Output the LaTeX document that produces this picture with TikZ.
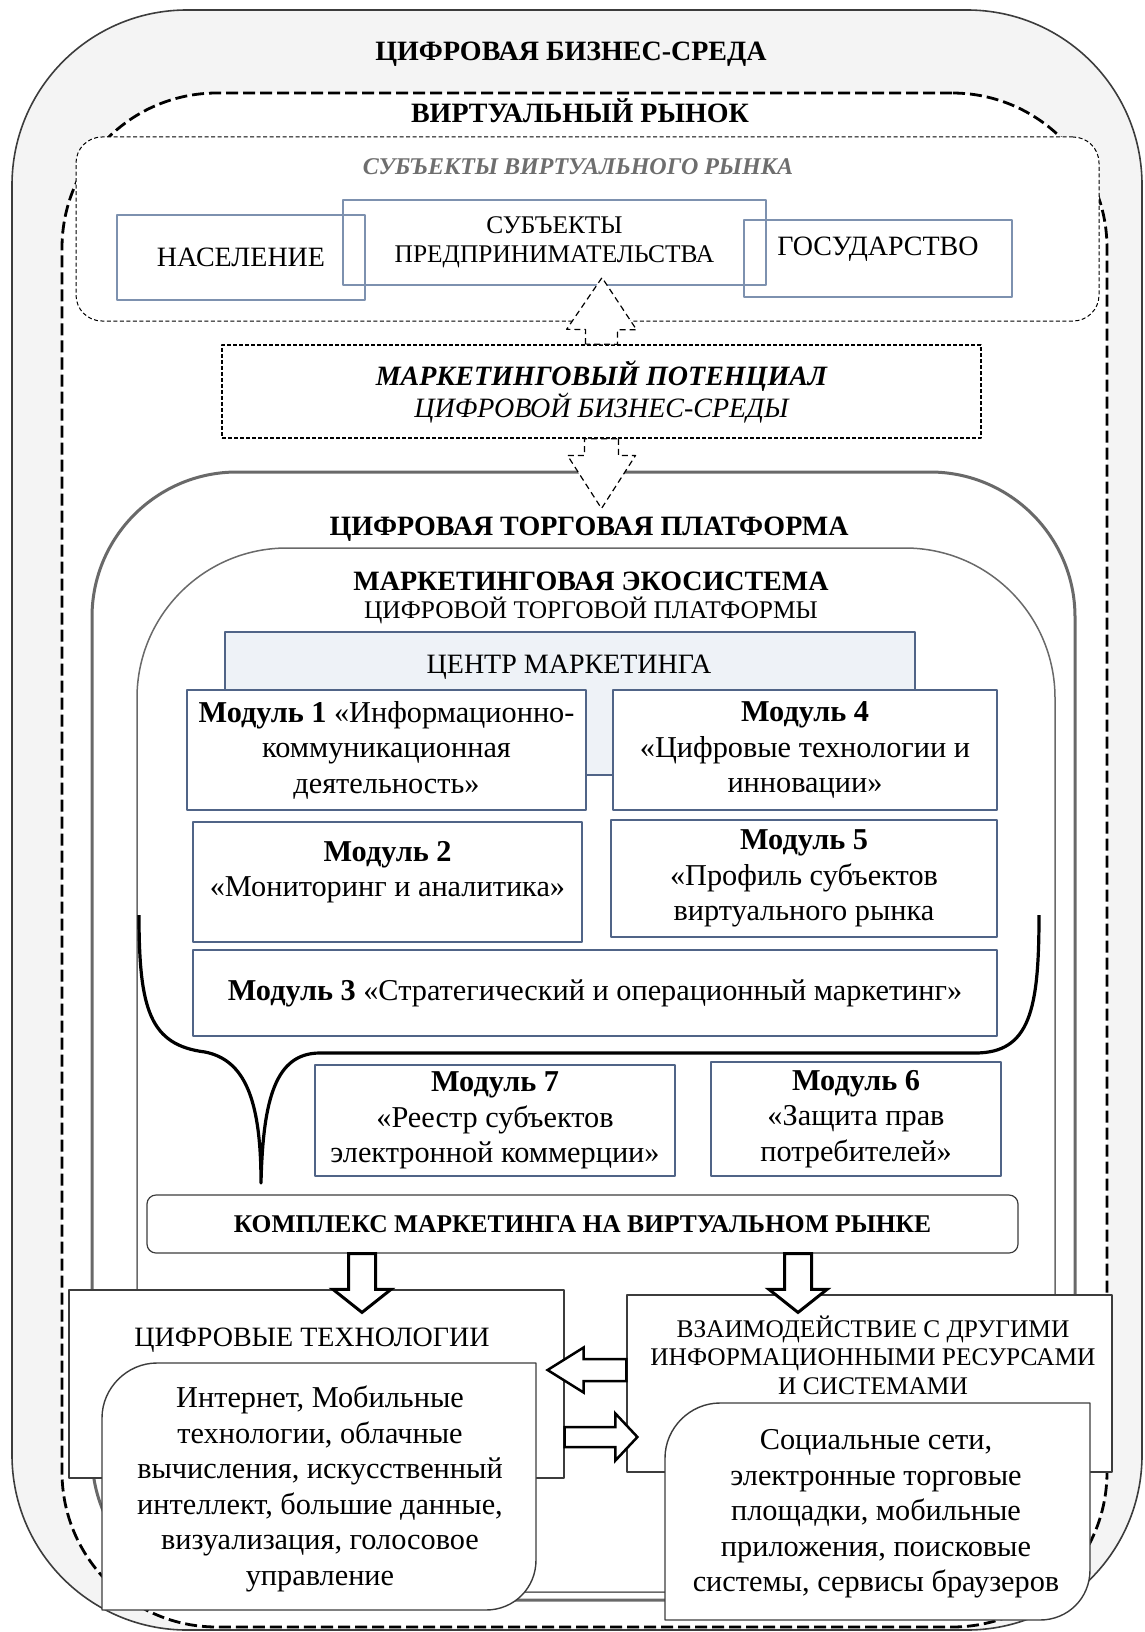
\documentclass[tikz,border=0pt]{standalone}
\usepackage{fontspec}
\setmainfont{Liberation Serif}
\usetikzlibrary{calc,positioning}

\definecolor{Cframe}{RGB}{60,60,60}
\definecolor{Cplat}{RGB}{105,105,105}
\definecolor{Csubj}{RGB}{125,145,175}
\definecolor{Cmod}{RGB}{80,100,135}
\definecolor{Ccentr}{RGB}{238,242,247}
\definecolor{Cgreytxt}{RGB}{110,110,110}
\definecolor{Cshade}{RGB}{244,244,244}

\newcommand{\titlefont}{\fontsize{28}{28}\selectfont}
\newcommand{\capfont}{\fontsize{28}{29}\selectfont}
\newcommand{\smallcapfont}{\fontsize{25.4}{28.5}\selectfont}
\newcommand{\bodyfont}{\fontsize{30.3}{35.5}\selectfont}

\tikzset{
    zone/.style={rectangle, inner sep=0pt},
    ztitle/.style={font=\titlefont\bfseries, align=center, inner sep=0pt},
    subj/.style={rectangle, draw=Csubj, line width=1.2pt, align=center, font=\capfont, inner sep=0pt},
    modbox/.style={rectangle, draw=Cmod, line width=1.8pt, fill=white, align=center, font=\bodyfont, inner sep=0pt},
    captext/.style={font=\capfont, align=center, inner sep=0pt},
    bodytext/.style={font=\bodyfont, align=center, inner sep=0pt},
    softbox/.style={draw=Cframe, line width=1.4pt, fill=white},
    % block arrow: shaft half width, head half width, head length
    fatarr/.style n args={3}{
        to path={let \p1=(\tikztostart), \p2=(\tikztotarget), \p3=($(\p2)!#3!(\p1)$) in
            ($(\p1)!#1!90:(\p2)$) -- ($(\p3)!#1!90:(\p2)$) -- ($(\p3)!#2!90:(\p2)$) -- (\p2)
            -- ($(\p3)!#2!-90:(\p2)$) -- ($(\p3)!#1!-90:(\p2)$) -- ($(\p1)!#1!-90:(\p2)$) -- cycle}
    },
    dasharr/.style={draw=black, line width=1.2pt, dash pattern=on 6pt off 4pt, fill=white},
    solidarr/.style={draw=black, line width=3pt, fill=white, line join=miter},
}

\begin{document}
\begin{tikzpicture}[x=1pt, y=-1pt, line join=round]
    \useasboundingbox (0,0) rectangle (1144,1632);

    % ── внешние зоны ─────────────────────────────────────
    \node [zone, draw=Cframe, line width=1.6pt, fill=Cshade, rounded corners=175pt,
        minimum width=1130pt, minimum height=1620pt] (bizenv) at (577,820) {};
    \node [zone, draw=black, line width=2.8pt, dash pattern=on 12pt off 5pt, fill=white,
        rounded corners=155pt, minimum width=1045pt, minimum height=1534pt] (vmarket) at (584.5,860) {};
    \node [zone, draw=black, line width=1pt, dash pattern=on 4pt off 2.5pt, fill=white,
        rounded corners=26pt, minimum width=1023pt, minimum height=184pt] (subjects) at (587.5,229) {};

    \node [ztitle] (bizenvT) at (571,54) {ЦИФРОВАЯ БИЗНЕС-СРЕДА};
    \node [ztitle] (vmarketT) at (580,111) {ВИРТУАЛЬНЫЙ РЫНОК};
    \node [ztitle, font=\fontsize{24}{26}\selectfont\bfseries\itshape, text=Cgreytxt] (subjectsT) at (578,167) {СУБЪЕКТЫ ВИРТУАЛЬНОГО РЫНКА};

    % ── субъекты ─────────────────────────────────────────
    \node [subj, minimum width=248pt, minimum height=85pt] (nasel) at (241,257.5) {НАСЕЛЕНИЕ};
    \node [subj, minimum width=423pt, minimum height=85pt, font=\smallcapfont] (predpr) at (554.5,242.5) {СУБЪЕКТЫ\\ПРЕДПРИНИМАТЕЛЬСТВА};
    \node [subj, minimum width=268pt, minimum height=77pt] (gos) at (878,258.5) {\raisebox{9pt}[\height][\depth]{ГОСУДАРСТВО}};

    % ── потенциал ────────────────────────────────────────
    \node [zone, draw=black, line width=1.5pt, dash pattern=on 4pt off 2pt, fill=white,
        minimum width=759pt, minimum height=93pt, align=center, font=\fontsize{28}{32}\selectfont\itshape]
        (potential) at (601.5,391.5) {\textbf{МАРКЕТИНГОВЫЙ ПОТЕНЦИАЛ}\\ЦИФРОВОЙ БИЗНЕС-СРЕДЫ};

    % ── платформа и экосистема ───────────────────────────
    \node [zone, draw=Cplat, line width=3pt, fill=white, rounded corners=145pt,
        minimum width=983pt, minimum height=1128pt] (platform) at (583.5,1036) {};
    \node [ztitle] (platformT) at (589,529) {ЦИФРОВАЯ ТОРГОВАЯ ПЛАТФОРМА};
    \node [zone, draw=Cplat, line width=1.5pt, rounded corners=150pt,
        minimum width=918pt, minimum height=1044pt] (ecosys) at (596,1070) {};
    \node [ztitle, font=\titlefont] (ecosysT) at (591,598)
        {\textbf{МАРКЕТИНГОВАЯ ЭКОСИСТЕМА}\\{\fontsize{25.4}{28}\selectfont ЦИФРОВОЙ ТОРГОВОЙ ПЛАТФОРМЫ}};

    % ── центр маркетинга и модули ────────────────────────
    \node [zone, draw=Cmod, line width=1.5pt, fill=Ccentr, minimum width=690pt, minimum height=143pt] (centre) at (570,703.5) {};
    \node [captext] (centreT) at (569,667) {ЦЕНТР МАРКЕТИНГА};

    \node [modbox, minimum width=399pt, minimum height=120pt] (mod1) at (386.5,750)
        {\textbf{Модуль 1} «Информационно-\\коммуникационная\\деятельность»};
    \node [modbox, minimum width=384pt, minimum height=120pt] (mod4) at (805,750)
        {\textbf{Модуль 4}\\«Цифровые технологии и\\инновации»};
    \node [modbox, minimum width=389pt, minimum height=120pt] (mod2) at (387.5,882)
        {\raisebox{10pt}[\height][\depth]{\textbf{Модуль 2}}\\\raisebox{10pt}[\height][\depth]{«Мониторинг и аналитика»}};
    \node [modbox, minimum width=386pt, minimum height=117pt] (mod5) at (804,878.5)
        {\textbf{Модуль 5}\\«Профиль субъектов\\виртуального рынка};
    \node [modbox, minimum width=804pt, minimum height=86pt] (mod3) at (595,993)
        {\textbf{Модуль 3} «Стратегический и операционный маркетинг»};
    \node [modbox, minimum width=360pt, minimum height=111pt] (mod7) at (495,1120.5)
        {\textbf{Модуль 7}\\«Реестр субъектов\\электронной коммерции»};
    \node [modbox, minimum width=290pt, minimum height=114pt] (mod6) at (856,1119)
        {\textbf{Модуль 6}\\«Защита прав\\потребителей»};

    % фигурная скобка
    \draw [line width=3.2pt] (139,915) .. controls (139,1010) and (150,1045) .. (205,1052)
        .. controls (245,1060) and (261,1100) .. (261,1183)
        .. controls (263,1100) and (275,1053) .. (320,1053)
        -- (975,1053) .. controls (1030,1053) and (1039,1010) .. (1039,915);

    % ── комплекс маркетинга ──────────────────────────────
    \node [zone, draw=Cframe, line width=1.2pt, fill=white, rounded corners=9pt,
        minimum width=871pt, minimum height=58pt, font=\fontsize{25.5}{28}\selectfont\bfseries]
        (kompleks) at (582.5,1224) {КОМПЛЕКС МАРКЕТИНГА НА ВИРТУАЛЬНОМ РЫНКЕ};

    % ── нижние блоки ─────────────────────────────────────
    \node [zone, draw=Cframe, line width=1.2pt, fill=white, minimum width=495pt, minimum height=188pt] (tech) at (316.5,1384) {};
    \node [captext] (techT) at (312,1340) {ЦИФРОВЫЕ ТЕХНОЛОГИИ};
    \node [zone, draw=Cframe, line width=1.2pt, fill=white, minimum width=485pt, minimum height=177pt] (inter) at (869.5,1383.5) {};
    \node [captext, font=\smallcapfont] (interT) at (873,1355)
        {ВЗАИМОДЕЙСТВИЕ С ДРУГИМИ\\ИНФОРМАЦИОННЫМИ РЕСУРСАМИ\\И СИСТЕМАМИ};

    \draw [softbox] (102,1610) -- (102,1418) .. controls (102,1388) and (127,1363) .. (157,1363)
        -- (536,1363) -- (536,1560) .. controls (536,1588) and (514,1610) .. (486,1610) -- cycle;
    \node [bodytext] (inet) at (320,1489)
        {Интернет, Мобильные\\технологии, облачные\\вычисления, искусственный\\интеллект, большие данные,\\визуализация, голосовое\\управление};
    \draw [softbox] (665,1620) -- (665,1458) .. controls (665,1428) and (690,1403) .. (720,1403)
        -- (1090,1403) -- (1090,1570) .. controls (1090,1598) and (1068,1620) .. (1040,1620) -- cycle;
    \node [bodytext] (socnet) at (876,1514)
        {Социальные сети,\\электронные торговые\\площадки, мобильные\\приложения, поисковые\\системы, сервисы браузеров};

    % ── стрелки ──────────────────────────────────────────
    \draw [dasharr, fatarr={16pt}{35pt}{52pt}] (potential.north) to ([xshift=47.5pt,yshift=8pt]predpr.south);
    \draw [dasharr, fatarr={17pt}{34pt}{53pt}] (potential.south) to ([xshift=18pt,yshift=-38pt]platform.north);
    \draw [solidarr, fatarr={13.5pt}{29pt}{23pt}] ([xshift=-220.5pt]kompleks.south) to ([xshift=45.5pt,yshift=-23pt]tech.north);
    \draw [solidarr, fatarr={13.5pt}{29pt}{23pt}] ([xshift=215.5pt]kompleks.south) to ([xshift=-71.5pt,yshift=-18pt]inter.north);
    \draw [solidarr, line width=2.5pt, fatarr={11pt}{22.5pt}{36pt}] ([yshift=13.5pt]inter.west) to ([xshift=-17pt,yshift=14pt]tech.east);
    \draw [solidarr, line width=2.5pt, fatarr={10pt}{23.5pt}{22pt}] ([yshift=-53pt]tech.east) to ([xshift=11pt,yshift=-53.5pt]inter.west);

\end{tikzpicture}
\end{document}
